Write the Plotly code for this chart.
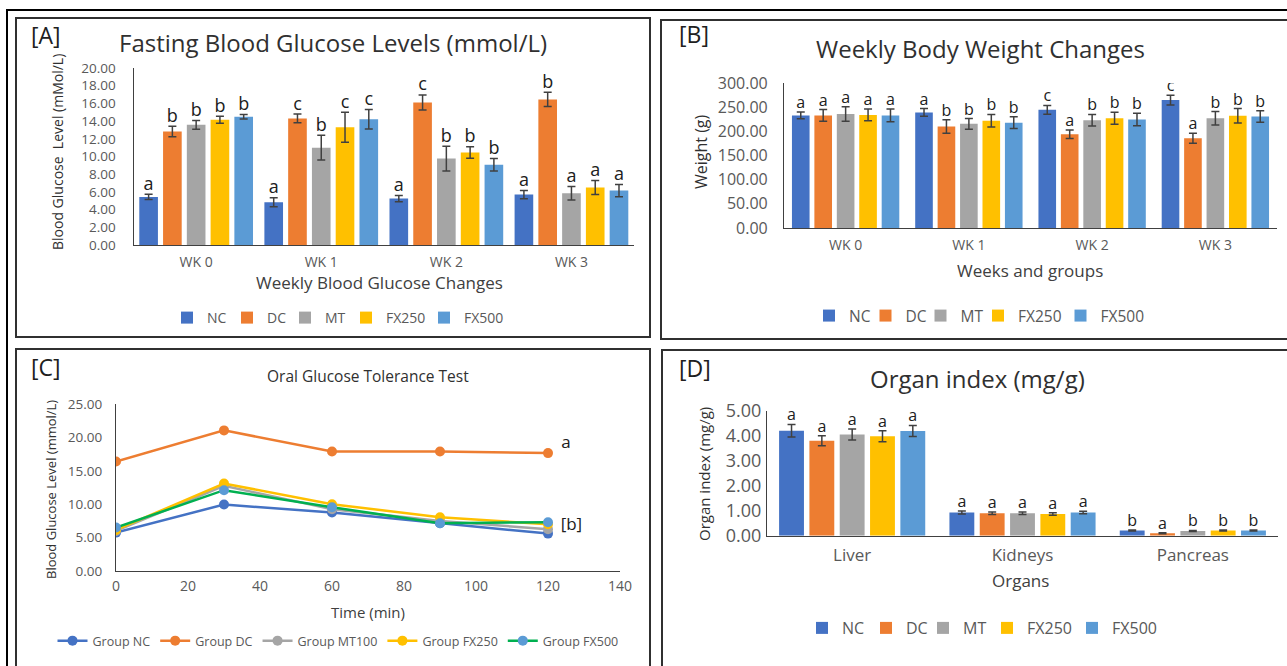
import plotly.graph_objects as go

W_PX, H_PX = 1287, 666

groups = ["NC", "DC", "MT", "FX250", "FX500"]
colors = ["#4472C4", "#ED7D31", "#A5A5A5", "#FFC000", "#5B9BD5"]

# ---------------- Panel A: Fasting blood glucose ----------------
weeks = ["WK 0", "WK 1", "WK 2", "WK 3"]
fbg_mean = [
    [5.43, 4.83, 5.25, 5.70],     # NC
    [12.83, 14.30, 16.10, 16.45],  # DC
    [13.58, 11.00, 9.77, 5.85],    # MT
    [14.15, 13.30, 10.45, 6.50],   # FX250
    [14.49, 14.20, 9.06, 6.15],    # FX500
]
fbg_err = [
    [0.30, 0.50, 0.35, 0.47],
    [0.60, 0.50, 0.85, 0.80],
    [0.50, 1.40, 1.40, 0.77],
    [0.40, 1.70, 0.65, 0.80],
    [0.26, 1.10, 0.70, 0.70],
]
fbg_letters = [
    ["a", "a", "a", "a"],
    ["b", "c", "c", "b"],
    ["b", "b", "b", "a"],
    ["b", "c", "b", "a"],
    ["b", "c", "b", "a"],
]

# ---------------- Panel B: Body weight ----------------
bw_mean = [
    [232.8, 239.0, 244.6, 264.7],
    [233.0, 210.0, 194.0, 185.7],
    [236.0, 215.5, 223.0, 227.0],
    [234.0, 222.0, 227.0, 232.0],
    [233.0, 218.0, 224.5, 230.8],
]
bw_err = [
    [7, 8, 9, 10],
    [12, 14, 9, 10.5],
    [15, 11, 12, 14],
    [12, 13, 12.5, 15],
    [13, 12, 13, 12],
]
bw_letters = [
    ["a", "a", "c", "c"],
    ["a", "b", "a", "a"],
    ["a", "b", "b", "b"],
    ["a", "b", "b", "b"],
    ["a", "b", "b", "b"],
]

# ---------------- Panel C: OGTT ----------------
ogtt_time = [0, 30, 60, 90, 120]
ogtt_names = ["Group NC", "Group DC", "Group MT100", "Group FX250", "Group FX500"]
ogtt_vals = [
    [5.75, 9.95, 8.75, 7.15, 5.60],
    [16.40, 21.05, 17.90, 17.90, 17.65],
    [6.00, 12.75, 9.25, 7.50, 6.25],
    [6.15, 13.10, 10.00, 8.05, 7.00],
    [6.50, 12.10, 9.55, 7.15, 7.30],
]
ogtt_line_colors = ["#4472C4", "#ED7D31", "#A5A5A5", "#FFC000", "#00B050"]
ogtt_marker_colors = ["#4472C4", "#ED7D31", "#A5A5A5", "#FFC000", "#5B9BD5"]
ogtt_labels = ["a", "[b]"]
ogtt_label_x = [125.0, 126.5]
ogtt_label_y = [19.0, 6.75]

# ---------------- Panel D: Organ index ----------------
organs = ["Liver", "Kidneys", "Pancreas"]
oi_mean = [
    [4.20, 0.93, 0.21],
    [3.80, 0.90, 0.10],
    [4.05, 0.90, 0.19],
    [3.98, 0.87, 0.21],
    [4.19, 0.93, 0.21],
]
oi_err = [
    [0.25, 0.06, 0.02],
    [0.20, 0.05, 0.02],
    [0.22, 0.05, 0.02],
    [0.22, 0.05, 0.02],
    [0.22, 0.05, 0.02],
]
oi_letters = [
    ["a", "a", "b"],
    ["a", "a", "a"],
    ["a", "a", "b"],
    ["a", "a", "b"],
    ["a", "a", "b"],
]

FONT = "Open Sans"
TXT = "#404040"
TICK = "#595959"


def px(x):
    return x / W_PX


def py(y):
    return 1 - y / H_PX


fig = go.Figure()


def add_bar_panel(xa, ya, cats, means, errs, letters, legend, letter_size,
                  bar_w, step, legend_widths):
    idx = list(range(len(cats)))
    span = step * (len(groups) - 1) + bar_w
    for k, g in enumerate(groups):
        off = -span / 2 + k * step
        fig.add_trace(go.Bar(
            x=idx, y=means[k], width=bar_w, offset=off,
            marker=dict(color=colors[k], line=dict(width=0)),
            error_y=dict(type="data", array=errs[k], color="#404040",
                         thickness=1.5, width=4),
            name=g, legend=legend, legendwidth=legend_widths[k],
            xaxis=xa, yaxis=ya,
        ))
        fig.add_trace(go.Scatter(
            x=[i + off + bar_w / 2 for i in idx],
            y=[m + e for m, e in zip(means[k], errs[k])],
            mode="text", text=letters[k], textposition="top center",
            textfont=dict(family=FONT, size=letter_size, color="#202020"),
            showlegend=False, hoverinfo="skip", xaxis=xa, yaxis=ya,
        ))


add_bar_panel("x", "y", weeks, fbg_mean, fbg_err, fbg_letters, "legend", 18,
              0.149, 0.19, [15, 13, 16, 33, 45])
add_bar_panel("x2", "y2", weeks, bw_mean, bw_err, bw_letters, "legend2", 16,
              0.143, 0.182, [11.5, 10, 12.5, 37.5, 48])
add_bar_panel("x4", "y4", organs, oi_mean, oi_err, oi_letters, "legend4", 16,
              0.146, 0.178, [19, 12, 19, 40, 48])

for k, name in enumerate(ogtt_names):
    fig.add_trace(go.Scatter(
        x=ogtt_time, y=ogtt_vals[k], mode="lines+markers", name=name,
        line=dict(color=ogtt_line_colors[k], width=2.5),
        marker=dict(color=ogtt_marker_colors[k], size=10),
        legend="legend3", xaxis="x3", yaxis="y3",
    ))
fig.add_trace(go.Scatter(
    x=ogtt_label_x, y=ogtt_label_y, mode="text", text=ogtt_labels,
    textfont=dict(family=FONT, size=17, color="#202020"),
    showlegend=False, hoverinfo="skip", xaxis="x3", yaxis="y3",
))

axis_common = dict(showgrid=False, zeroline=False, showline=True,
                   linecolor="#404040", linewidth=1.2, ticks="",
                   fixedrange=True)

fig.update_layout(
    width=W_PX, height=H_PX,
    margin=dict(l=0, r=0, t=0, b=0, autoexpand=False),
    paper_bgcolor="white", plot_bgcolor="white",
    font=dict(family=FONT, color=TXT),
    xaxis=dict(domain=[px(133.6), px(634)], range=[-0.5, 3.5], anchor="y",
               tickvals=list(range(len(weeks))), ticktext=weeks,
               ticklabelstandoff=4,
               tickfont=dict(size=14, color=TICK), **axis_common),
    yaxis=dict(domain=[py(245), py(68)], range=[0, 20], dtick=2,
               tickformat=".2f", anchor="x", ticklabelstandoff=14,
               tickfont=dict(size=13.5, color=TICK), **axis_common),
    xaxis2=dict(domain=[px(784), px(1277)], range=[-0.5, 3.5], anchor="y2",
                tickvals=list(range(len(weeks))), ticktext=weeks,
                ticklabelstandoff=4,
                tickfont=dict(size=14, color=TICK), **axis_common),
    yaxis2=dict(domain=[py(228), py(83)], range=[0, 300], dtick=50,
                tickformat=".2f", anchor="x2", ticklabelstandoff=12,
                tickfont=dict(size=16, color=TICK), **axis_common),
    xaxis3=dict(domain=[px(116), px(620)], range=[0, 140], dtick=20,
                anchor="y3", ticklabelstandoff=2,
                tickfont=dict(size=14, color=TICK), **axis_common),
    yaxis3=dict(domain=[py(571), py(404)], range=[0, 25], dtick=5,
                tickformat=".2f", anchor="x3", ticklabelstandoff=10,
                tickfont=dict(size=13.5, color=TICK), **axis_common),
    xaxis4=dict(domain=[px(767), px(1278)], range=[-0.5, 2.5], anchor="y4",
                tickvals=list(range(len(organs))), ticktext=organs,
                ticklabelstandoff=4,
                tickfont=dict(size=17, color=TICK), **axis_common),
    yaxis4=dict(domain=[py(535.7), py(410.7)], range=[0, 5], dtick=1,
                tickformat=".2f", anchor="x4", ticklabelstandoff=1,
                tickfont=dict(size=18, color=TICK), **axis_common),
    legend=dict(orientation="h", x=px(167), y=py(318), xanchor="left",
                yanchor="middle", font=dict(size=14, color=TICK),
                bgcolor="rgba(0,0,0,0)", itemwidth=30),
    legend2=dict(orientation="h", x=px(809), y=py(316), xanchor="left",
                 yanchor="middle", font=dict(size=15.5, color=TICK),
                 bgcolor="rgba(0,0,0,0)", itemwidth=30),
    legend3=dict(orientation="h", x=px(338), y=py(641), xanchor="center",
                 yanchor="middle", font=dict(size=12.5, color=TICK),
                 bgcolor="rgba(0,0,0,0)", itemwidth=30),
    legend4=dict(orientation="h", x=px(802), y=py(628), xanchor="left",
                 yanchor="middle", font=dict(size=16, color=TICK),
                 bgcolor="rgba(0,0,0,0)", itemwidth=30),
)

# Text annotations (titles, panel letters, axis titles)
ann = []


def add_text(x, y, text, size, color=TXT, angle=0, xanchor="center"):
    ann.append(dict(x=px(x), y=py(y), xref="paper", yref="paper", text=text,
                    showarrow=False, textangle=angle, xanchor=xanchor,
                    yanchor="middle", font=dict(family=FONT, size=size,
                                                color=color)))


add_text(29, 35, "[A]", 23, "#202020", xanchor="left")
add_text(333, 42, "Fasting Blood Glucose Levels (mmol/L)", 24, "#303030")
add_text(58, 152, "Blood Glucose  Level (mMol/L)", 14, "#303030", angle=-90)
add_text(380, 282, "Weekly Blood Glucose Changes", 17, "#404040")

add_text(677, 34, "[B]", 23, "#202020", xanchor="left")
add_text(980, 48, "Weekly Body Weight Changes", 24, "#303030")
add_text(701, 152, "Weight (g)", 16, "#303030", angle=-90)
add_text(1030, 270, "Weeks and groups", 17, "#404040")

add_text(29, 367, "[C]", 23, "#202020", xanchor="left")
add_text(368, 376, "Oral Glucose Tolerance Test", 15.5, "#303030")
add_text(51, 490, "Blood Glucose Level (mmol/L)", 13, "#303030", angle=-90)
add_text(368, 612, "Time (min)", 15, "#404040")

add_text(677, 368, "[D]", 23, "#202020", xanchor="left")
add_text(977, 378, "Organ index (mg/g)", 24, "#303030")
add_text(704, 474, "Organ index (mg/g)", 15, "#303030", angle=-90)
add_text(1020, 580, "Organs", 17, "#404040")

fig.update_layout(annotations=ann)

# Frames
shapes = []


def add_box(x0, y0, x1, y1, width=2, color="#303030"):
    shapes.append(dict(type="rect", xref="paper", yref="paper",
                       x0=px(x0), x1=px(x1), y0=py(y1), y1=py(y0),
                       line=dict(color=color, width=width),
                       fillcolor="rgba(0,0,0,0)"))


add_box(7, 10, 1300, 700, width=2, color="#000000")
add_box(16, 18, 650, 337)
add_box(661, 20, 1300, 339)
add_box(16, 349, 650, 700)
add_box(662, 350, 1300, 700)
fig.update_layout(shapes=shapes)

fig.write_html(
    "out.html",
    config={"displayModeBar": False},
    post_script=(
        "document.documentElement.style.margin='0';"
        "document.body.style.margin='0';"
        "document.body.style.padding='0';"
        "document.documentElement.style.overflow='hidden';"
        "document.body.style.overflow='hidden';"
    ),
)
